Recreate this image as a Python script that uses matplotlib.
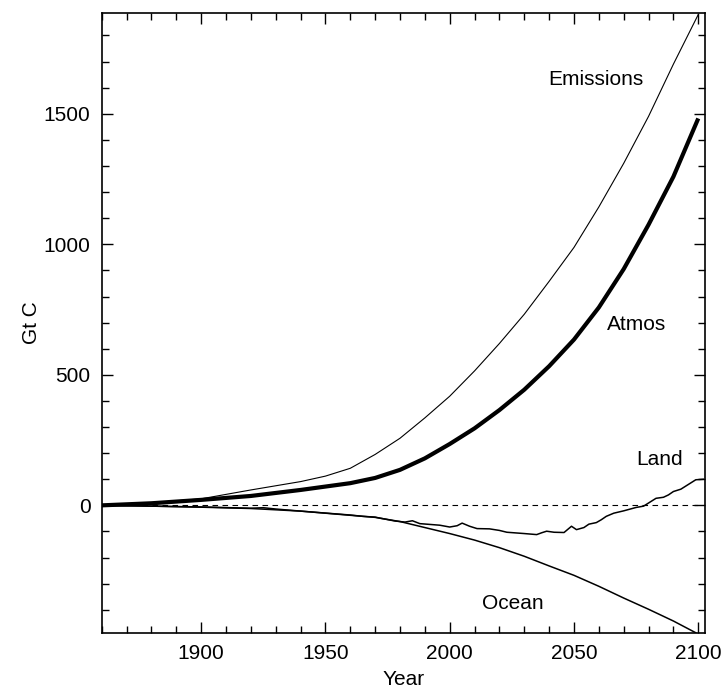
import numpy as np
import matplotlib
matplotlib.use('Agg')
import matplotlib.pyplot as plt
from matplotlib.ticker import MultipleLocator

plt.rcParams['font.family'] = ['Liberation Sans', 'DejaVu Sans']

## Data (Gt C)
years_emis = [1860, 1880, 1900, 1920, 1940, 1950, 1960, 1970, 1980, 1990, 2000,
              2010, 2020, 2030, 2040, 2050, 2060, 2070, 2080, 2090, 2100]
emissions = [0, 10, 25, 59, 91, 112, 142, 195, 257, 335, 418,
             515, 620, 732, 858, 988, 1143, 1310, 1490, 1690, 1880]

years_atm = [1860, 1880, 1900, 1920, 1940, 1960, 1970, 1980, 1990, 2000,
             2010, 2020, 2030, 2040, 2050, 2060, 2070, 2080, 2090, 2100]
atmos = [0, 8, 21, 36, 59, 85, 105, 136, 180, 235,
         295, 365, 443, 533, 635, 758, 905, 1075, 1259, 1482]

years_ocean = [1860, 1880, 1900, 1920, 1940, 1960, 1970, 1980, 1990, 2000,
               2010, 2020, 2030, 2040, 2050, 2060, 2070, 2080, 2090, 2099]
ocean = [0, -3, -7, -12, -22, -38, -46, -62, -85, -108,
         -133, -162, -195, -232, -268, -310, -355, -398, -443, -488]

years_land = [1860, 1880, 1900, 1920, 1925, 1930, 1940, 1960, 1965, 1970, 1972,
              1978, 1982, 1985, 1988, 1992, 1996, 2000, 2003, 2005, 2008, 2011,
              2016, 2020, 2023, 2030, 2035, 2037, 2039, 2042, 2046, 2048, 2049,
              2051, 2054, 2056, 2059, 2061, 2063, 2066, 2070, 2075, 2078, 2081,
              2083, 2086, 2088, 2090, 2093, 2096, 2099, 2102]
land = [0, -3, -6, -11, -9, -14, -22, -37, -42, -45, -49,
        -60, -64, -59, -70, -73, -76, -83, -78, -68, -80, -89,
        -90, -96, -103, -108, -112, -105, -99, -103, -104, -88, -80,
        -93, -85, -72, -66, -55, -42, -30, -21, -8, -3, 15,
        27, 31, 40, 53, 62, 80, 98, 100]

labels = ['Emissions', 'Atmos', 'Land', 'Ocean']
label_pos = [(2059, 1633), (2075, 691), (2084.5, 174), (2025.5, -374)]

fig = plt.figure(figsize=(7.27, 6.91), dpi=100)
ax = fig.add_axes([0.1399, 0.0839, 0.8298, 0.8977])

ax.plot(years_emis, emissions, color='black', lw=0.8)
ax.plot(years_atm, atmos, color='black', lw=3.0, solid_capstyle='butt')
ax.plot(years_ocean, ocean, color='black', lw=1.1)
ax.plot(years_land, land, color='black', lw=1.1)
ax.plot([1860, 2100], [0, 0], color='black', lw=0.8, ls=(0, (5, 4)))

for txt, (x, y) in zip(labels, label_pos):
    ax.text(x, y, txt, fontsize=15, ha='center', va='center')

ax.set_xlim(1860, 2102.7)
ax.set_ylim(-489, 1887)
ax.xaxis.set_major_locator(MultipleLocator(50))
ax.xaxis.set_minor_locator(MultipleLocator(10))
ax.yaxis.set_major_locator(MultipleLocator(500))
ax.yaxis.set_minor_locator(MultipleLocator(100))
ax.tick_params(which='both', direction='in', top=True, right=True,
               labelsize=15, width=1.0, pad=8)
ax.tick_params(which='major', length=8)
ax.tick_params(which='minor', length=5)
for s in ax.spines.values():
    s.set_linewidth(1.2)

ax.set_xlabel('Year', fontsize=15, va='center')
ax.set_ylabel('Gt C', fontsize=15, va='center')
ax.xaxis.set_label_coords(0.5, -0.0742)
ax.yaxis.set_label_coords(-0.116, 0.5)

fig.savefig('out.png', dpi=100)
